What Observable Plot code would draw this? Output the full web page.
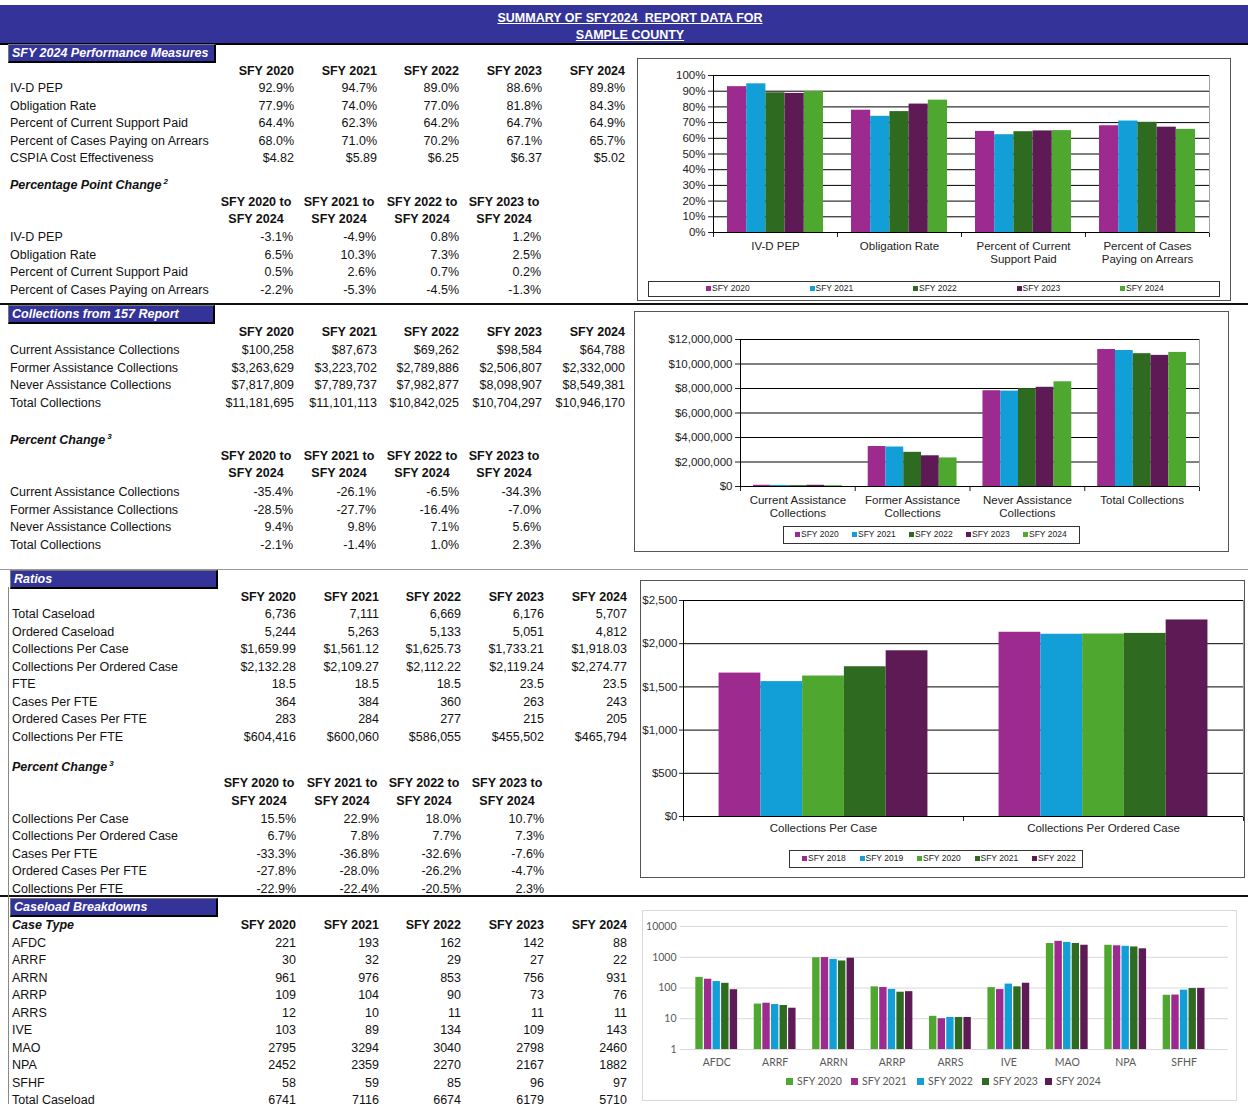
<!DOCTYPE html>
<html><head><meta charset="utf-8">
<script src="https://cdn.jsdelivr.net/npm/d3@7"></script>
<script src="https://cdn.jsdelivr.net/npm/@observablehq/plot@0.6"></script>
<style>
body{margin:0;background:#fff;}
#page{position:relative;width:1248px;height:1104px;overflow:hidden;font-family:"Liberation Sans",Arial,sans-serif;color:#111;}
.t{position:absolute;white-space:pre;font-size:12.5px;line-height:14px;}
.b{font-weight:bold;}
.bi{font-weight:bold;font-style:italic;}
.sup{font-size:8px;position:relative;top:-5px;margin-left:2px;}
.sec{position:absolute;background:#333399;color:#fff;font-weight:bold;font-style:italic;font-size:12.5px;line-height:16px;height:16px;padding-left:3px;border-top:1px solid #777;border-left:1px solid #777;border-right:2px solid #000;border-bottom:2px solid #000;box-sizing:content-box;white-space:nowrap;}
.box{position:absolute;border:1px solid #555;background:#fff;}
.abs{position:absolute;}
.leg{position:absolute;border:1px solid #333;background:#fff;}
.li{position:absolute;font-size:8.5px;line-height:10px;color:#222;white-space:nowrap;}
.sq{display:inline-block;width:5px;height:5px;margin-right:1px;vertical-align:0px;}
.li4{position:absolute;font-family:Lato,"Liberation Sans",sans-serif;font-size:10.5px;line-height:12px;color:#595959;white-space:nowrap;}
.sq4{display:inline-block;width:7px;height:7px;margin-right:4px;vertical-align:0px;}
</style>
</head><body><div id="page"></div>
<script>
// ---------------- DATA ----------------
const years = ["SFY 2020","SFY 2021","SFY 2022","SFY 2023","SFY 2024"];
const changeHeadTop = ["SFY 2020 to","SFY 2021 to","SFY 2022 to","SFY 2023 to"];
const changeHeadBottom = "SFY 2024";

const perfLabels = ["IV-D PEP","Obligation Rate","Percent of Current Support Paid","Percent of Cases Paying on Arrears","CSPIA Cost Effectiveness"];
const perfValues = [
  [92.9,94.7,89.0,88.6,89.8],
  [77.9,74.0,77.0,81.8,84.3],
  [64.4,62.3,64.2,64.7,64.9],
  [68.0,71.0,70.2,67.1,65.7],
  [4.82,5.89,6.25,6.37,5.02]
];
const ppLabels = ["IV-D PEP","Obligation Rate","Percent of Current Support Paid","Percent of Cases Paying on Arrears"];
const ppChange = [
  [-3.1,-4.9,0.8,1.2],
  [6.5,10.3,7.3,2.5],
  [0.5,2.6,0.7,0.2],
  [-2.2,-5.3,-4.5,-1.3]
];
const collLabels = ["Current Assistance Collections","Former Assistance Collections","Never Assistance Collections","Total Collections"];
const collValues = [
  [100258,87673,69262,98584,64788],
  [3263629,3223702,2789886,2506807,2332000],
  [7817809,7789737,7982877,8098907,8549381],
  [11181695,11101113,10842025,10704297,10946170]
];
const collChange = [
  [-35.4,-26.1,-6.5,-34.3],
  [-28.5,-27.7,-16.4,-7.0],
  [9.4,9.8,7.1,5.6],
  [-2.1,-1.4,1.0,2.3]
];
const ratioLabels = ["Total Caseload","Ordered Caseload","Collections Per Case","Collections Per Ordered Case","FTE","Cases Per FTE","Ordered Cases Per FTE","Collections Per FTE"];
const ratioValues = [
  [6736,7111,6669,6176,5707],
  [5244,5263,5133,5051,4812],
  [1659.99,1561.12,1625.73,1733.21,1918.03],
  [2132.28,2109.27,2112.22,2119.24,2274.77],
  [18.5,18.5,18.5,23.5,23.5],
  [364,384,360,263,243],
  [283,284,277,215,205],
  [604416,600060,586055,455502,465794]
];
const ratioChangeLabels = ["Collections Per Case","Collections Per Ordered Case","Cases Per FTE","Ordered Cases Per FTE","Collections Per FTE"];
const ratioChange = [
  [15.5,22.9,18.0,10.7],
  [6.7,7.8,7.7,7.3],
  [-33.3,-36.8,-32.6,-7.6],
  [-27.8,-28.0,-26.2,-4.7],
  [-22.9,-22.4,-20.5,2.3]
];
const caseTypes = ["AFDC","ARRF","ARRN","ARRP","ARRS","IVE","MAO","NPA","SFHF"];
const caseValues = [
  [221,193,162,142,88],
  [30,32,29,27,22],
  [961,976,853,756,931],
  [109,104,90,73,76],
  [12,10,11,11,11],
  [103,89,134,109,143],
  [2795,3294,3040,2798,2460],
  [2452,2359,2270,2167,1882],
  [58,59,85,96,97]
];
const caseTotalLabel = "Total Caseload";
const caseTotals = [6741,7116,6674,6179,5710];

const chart1Cats = ["IV-D PEP","Obligation Rate","Percent of Current\nSupport Paid","Percent of Cases\nPaying on Arrears"];
const chart2Cats = ["Current Assistance\nCollections","Former Assistance\nCollections","Never Assistance\nCollections","Total Collections"];
const chart3Cats = ["Collections Per Case","Collections Per Ordered Case"];
const chart3Legend = ["SFY 2018","SFY 2019","SFY 2020","SFY 2021","SFY 2022"];
const pctTicks = [0,10,20,30,40,50,60,70,80,90,100];
const moneyTicks = [0,2000000,4000000,6000000,8000000,10000000,12000000];
const ratioTicks = [0,500,1000,1500,2000,2500];
const logTicks = [1,10,100,1000,10000];

const MAG="#9C2A8F", CYAN="#129FD7", DKG="#2E6A1F", DKP="#5E1A55", LTG="#4EA72F";
const colorsA = [MAG,CYAN,DKG,DKP,LTG];
const colorsC = [MAG,CYAN,LTG,DKG,DKP];
const colorsD = [LTG,MAG,CYAN,DKG,DKP];

// ---------------- HELPERS ----------------
const page = document.getElementById("page");
function el(tag, cls, style, html){
  const d = document.createElement(tag);
  if (cls) d.className = cls;
  Object.assign(d.style, style||{});
  if (html!==undefined) d.innerHTML = html;
  page.appendChild(d); return d;
}
function txt(s, x, y, align, cls){
  const d = el("div", "t" + (cls ? " "+cls : ""), {top:(y-7)+"px"});
  d.textContent = s;
  if (align==="right") d.style.right = (1248-x)+"px";
  else if (align==="center"){ d.style.left=(x-60)+"px"; d.style.width="120px"; d.style.textAlign="center"; }
  else d.style.left = x+"px";
  return d;
}
function sup(s, n, x, y){
  const d = el("div","t bi",{top:(y-7)+"px", left:x+"px"});
  d.innerHTML = s + '<span class="sup">'+n+'</span>';
}
function sec(s, x, y, w){ el("div","sec",{left:x+"px", top:y+"px", width:w+"px"}, s); }
function hline(y, x1, x2, h, c){ el("div","abs",{left:x1+"px", top:y+"px", width:(x2-x1)+"px", height:h+"px", background:c}); }
function vline(x, y1, y2, w, c){ el("div","abs",{left:x+"px", top:y1+"px", width:w+"px", height:(y2-y1)+"px", background:c}); }

const pct = v => v.toFixed(1)+"%";
const usd2 = v => "$"+v.toFixed(2);
const usdInt = v => "$"+d3.format(",")(Math.round(v));
const usdComma2 = v => "$"+d3.format(",.2f")(v);
const comma = v => d3.format(",")(v);
const one = v => v.toFixed(1);
const plain = v => String(v);

function yearTable(labels, values, fmts, lx, cols, hy, y0, step){
  years.forEach((yr,j)=>txt(yr, cols[j], hy, "right", "b"));
  labels.forEach((lab,i)=>{
    const y = y0 + i*step;
    txt(lab, lx, y);
    values[i].forEach((v,j)=>txt(fmts[i](v), cols[j], y, "right"));
  });
}
function changeTable(labels, values, lx, cols, hy1, hy2, y0, step){
  changeHeadTop.forEach((h,j)=>{ txt(h, cols[j]-37, hy1, "center", "b"); txt(changeHeadBottom, cols[j]-37, hy2, "center", "b"); });
  labels.forEach((lab,i)=>{
    const y = y0 + i*step;
    txt(lab, lx, y);
    values[i].forEach((v,j)=>txt(pct(v), cols[j], y, "right"));
  });
}

// ---------------- HEADER ----------------
el("div","abs",{left:"0px", top:"5px", width:"1248px", height:"38px", background:"#333399"});
hline(43,0,1248,2,"#000");
el("div","abs",{left:"0px", top:"10px", width:"1260px", textAlign:"center", color:"#fff", fontWeight:"bold", fontSize:"12.5px", lineHeight:"17px", textDecoration:"underline", whiteSpace:"pre"}, "SUMMARY OF SFY2024  REPORT DATA FOR<br>SAMPLE COUNTY");

// section lines
hline(303,0,1248,2,"#111");
hline(569,0,1248,1,"#999");
hline(895,0,1248,2,"#111");
vline(8,587,1104,1,"#888");

// ---------------- SECTION 1 ----------------
sec("SFY 2024 Performance Measures", 8, 44, 202);
const c1 = [294,377,459,542,625];
yearTable(perfLabels, perfValues, [pct,pct,pct,pct,usd2], 10, c1, 71, 88, 17.6);
sup("Percentage Point Change","2",10,185);
changeTable(ppLabels, ppChange, 10, [293,376,459,541], 202, 219, 237, 17.5);

// ---------------- SECTION 2 ----------------
sec("Collections from 157 Report", 8, 305, 201);
yearTable(collLabels, collValues, [usdInt,usdInt,usdInt,usdInt], 10, c1, 332, 350, 17.5);
sup("Percent Change","3",10,440);
changeTable(collLabels, collChange, 10, [293,376,459,541], 456, 473, 492, 17.5);

// ---------------- SECTION 3 ----------------
sec("Ratios", 10, 570, 202);
const c3 = [296,379,461,544,627];
yearTable(ratioLabels, ratioValues, [comma,comma,usdComma2,usdComma2,one,plain,plain,usdInt], 12, c3, 597, 614, 17.5);
sup("Percent Change","3",12,767);
changeTable(ratioChangeLabels, ratioChange, 12, [296,379,461,544], 783, 801, 818.5, 17.5);

// ---------------- SECTION 4 ----------------
sec("Caseload Breakdowns", 10, 898, 202);
txt("Case Type", 12, 925, "left", "bi");
yearTable([...caseTypes, caseTotalLabel], [...caseValues, caseTotals], Array(10).fill(plain), 12, c3, 925, 942.5, 17.5);

// ---------------- CHARTS ----------------
function groupData(matrix, pad){
  const out = [];
  matrix.forEach((row,g)=>{
    const w = (1-pad)/row.length;
    row.forEach((v,s)=>{ const x1 = g + pad/2 + s*w; out.push({g, s, x1, x2:x1+w, v}); });
  });
  return out;
}
function place(svg, x, y){ svg.style.position="absolute"; svg.style.left=x+"px"; svg.style.top=y+"px"; svg.style.overflow="visible"; page.appendChild(svg); }
const baseStyle = {fontFamily:"Liberation Sans, Arial, sans-serif", fontSize:"11.5px", color:"#222", background:"transparent", overflow:"visible"};

// Chart 1
el("div","box",{left:"637px", top:"58px", width:"592px", height:"241px"});
{
  const data = groupData(perfValues.slice(0,4), 0.226);
  const svg = Plot.plot({
    width:584, height:210, marginLeft:73, marginRight:15, marginTop:13, marginBottom:40,
    style: baseStyle,
    x:{domain:[0,4], ticks:[0,1,2,3,4], tickFormat:()=>"", tickSize:5, label:null},
    y:{domain:[0,100], ticks:pctTicks, tickFormat:d=>d+"%", tickSize:5, tickPadding:3, label:null},
    color:{type:"ordinal", domain:[0,1,2,3,4], range:colorsA},
    marks:[
      Plot.frame({stroke:"#a0a0a0"}),
      Plot.ruleY(pctTicks.slice(1), {stroke:"#000"}),
      Plot.rectY(data, {x1:"x1", x2:"x2", y1:0, y2:"v", fill:"s"}),
      Plot.ruleY([0], {stroke:"#000"}),
      Plot.ruleX([0], {stroke:"#000"}),
      Plot.text(chart1Cats, {x:(d,i)=>i+0.5, text:d=>d, frameAnchor:"bottom", lineAnchor:"top", dy:8, lineHeight:1.13, fill:"#222"})
    ]
  });
  place(svg, 640, 62);
  el("div","leg",{left:"648px", top:"281px", width:"570px", height:"14px"});
  years.forEach((y,k)=>el("div","li",{left:(706+k*103.5)+"px", top:"283px"}, '<span class="sq" style="background:'+colorsA[k]+'"></span>'+y));
}

// Chart 2
el("div","box",{left:"634px", top:"311px", width:"593px", height:"239px"});
{
  const data = groupData(collValues, 0.226);
  const svg = Plot.plot({
    width:577, height:212, marginLeft:104, marginRight:14, marginTop:25, marginBottom:40,
    style: baseStyle,
    x:{domain:[0,4], ticks:[0,1,2,3,4], tickFormat:()=>"", tickSize:5, label:null},
    y:{domain:[0,12000000], ticks:moneyTicks, tickFormat:d=>"$"+d3.format(",")(d), tickSize:5, tickPadding:3, label:null},
    color:{type:"ordinal", domain:[0,1,2,3,4], range:colorsA},
    marks:[
      Plot.frame({stroke:"#a0a0a0"}),
      Plot.ruleY(moneyTicks.slice(1), {stroke:"#000"}),
      Plot.rectY(data, {x1:"x1", x2:"x2", y1:0, y2:"v", fill:"s"}),
      Plot.ruleY([0], {stroke:"#000"}),
      Plot.ruleX([0], {stroke:"#000"}),
      Plot.text(chart2Cats, {x:(d,i)=>i+0.5, text:d=>d, frameAnchor:"bottom", lineAnchor:"top", dy:8, lineHeight:1.13, fill:"#222"})
    ]
  });
  place(svg, 636, 314);
  el("div","leg",{left:"783px", top:"526px", width:"295px", height:"16px"});
  years.forEach((y,k)=>el("div","li",{left:(795+k*57)+"px", top:"529px"}, '<span class="sq" style="background:'+colorsA[k]+'"></span>'+y));
}

// Chart 3
el("div","box",{left:"640px", top:"580px", width:"603px", height:"296px"});
{
  const data = groupData([ratioValues[2], ratioValues[3]], 0.254);
  const svg = Plot.plot({
    width:601, height:261, marginLeft:41, marginRight:0, marginTop:15, marginBottom:30,
    style: baseStyle,
    x:{domain:[0,2], ticks:[0,1,2], tickFormat:()=>"", tickSize:5, label:null},
    y:{domain:[0,2500], ticks:ratioTicks, tickFormat:d=>"$"+d3.format(",")(d), tickSize:4, tickPadding:2, label:null},
    color:{type:"ordinal", domain:[0,1,2,3,4], range:colorsC},
    marks:[
      Plot.frame({stroke:"#a0a0a0"}),
      Plot.ruleY(ratioTicks.slice(1), {stroke:"#000"}),
      Plot.rectY(data, {x1:"x1", x2:"x2", y1:0, y2:"v", fill:"s"}),
      Plot.ruleY([0], {stroke:"#000"}),
      Plot.ruleX([0], {stroke:"#000"}),
      Plot.text(chart3Cats, {x:(d,i)=>i+0.5, text:d=>d, frameAnchor:"bottom", lineAnchor:"top", dy:7, fill:"#222"})
    ]
  });
  place(svg, 642, 585);
  el("div","leg",{left:"789px", top:"850px", width:"292px", height:"16px"});
  chart3Legend.forEach((y,k)=>el("div","li",{left:(802+k*57.5)+"px", top:"853px"}, '<span class="sq" style="background:'+colorsC[k]+'"></span>'+y));
}

// Chart 4
el("div","box",{left:"642px", top:"910px", width:"593px", height:"189px", border:"1px solid #d9d9d9"});
{
  const data = groupData(caseValues, 0.264);
  const svg = Plot.plot({
    width:590, height:159, marginLeft:36, marginRight:6, marginTop:11, marginBottom:25,
    style: {fontFamily:"Lato, Liberation Sans, sans-serif", fontSize:"10.5px", color:"#595959", background:"transparent", overflow:"visible"},
    x:{domain:[-0.12,9.26], axis:null},
    y:{type:"log", domain:[1,10000], ticks:logTicks, tickFormat:d=>String(d), tickSize:0, tickPadding:4, label:null},
    color:{type:"ordinal", domain:[0,1,2,3,4], range:colorsD},
    marks:[
      Plot.ruleY(logTicks, {stroke:"#d9d9d9"}),
      Plot.rectY(data, {x1:"x1", x2:"x2", y1:1, y2:"v", fill:"s", insetLeft:0.6, insetRight:0.6}),
      Plot.text(caseTypes, {x:(d,i)=>i+0.5, text:d=>d, frameAnchor:"bottom", lineAnchor:"top", dy:9, fill:"#595959"})
    ]
  });
  place(svg, 644, 915);
  const lx = [786,851,917,982,1045];
  years.forEach((y,k)=>el("div","li4",{left:lx[k]+"px", top:"1075px"}, '<span class="sq4" style="background:'+colorsD[k]+'"></span>'+y));
}
</script>
</body></html>
